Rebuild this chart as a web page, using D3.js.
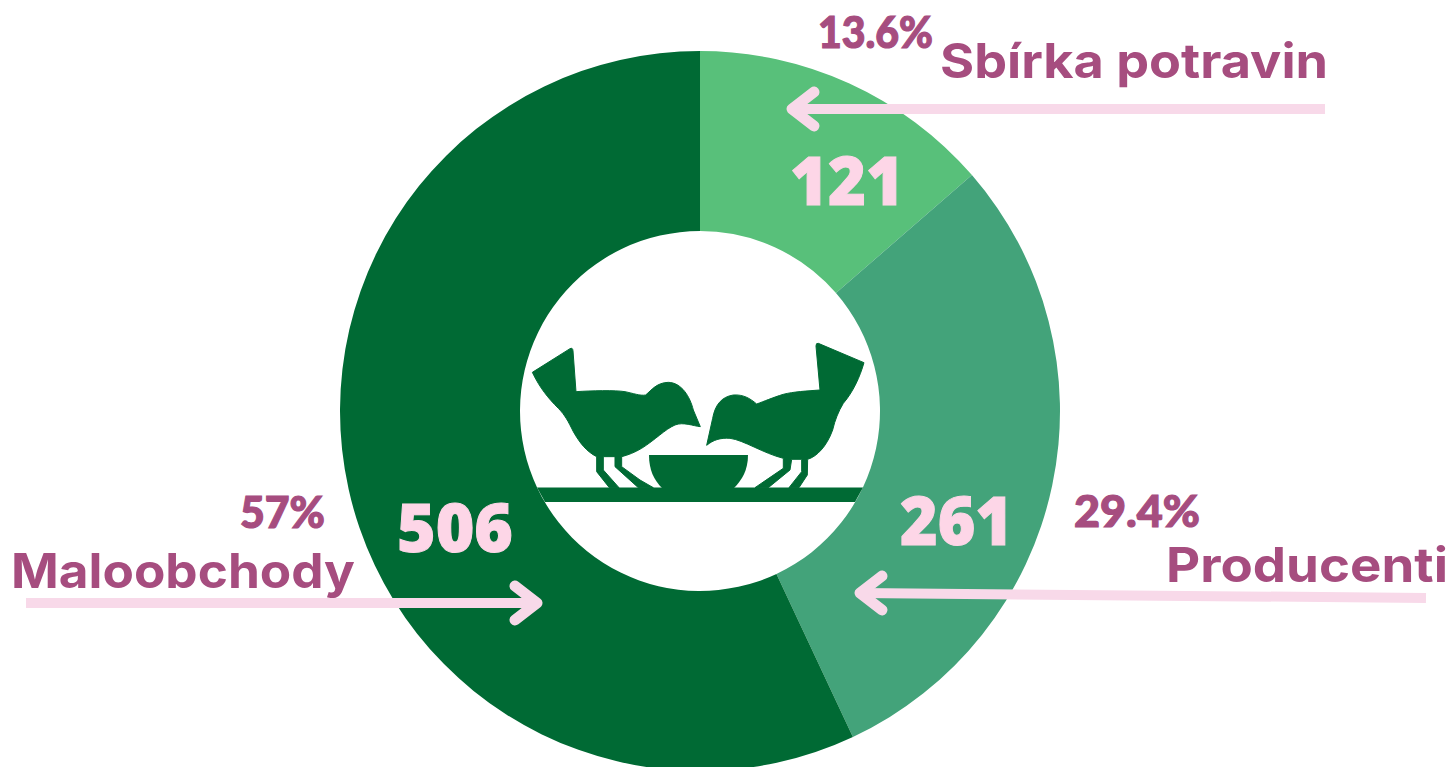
<!DOCTYPE html>
<html>
<head>
<meta charset="utf-8">
<script src="https://cdn.jsdelivr.net/npm/d3@7"></script>
<style>
  html, body { margin: 0; padding: 0; background: #fff; overflow: hidden; }
  svg { display: block; }
</style>
</head>
<body>
<div id="chart"></div>
<script>
const categories = ["Sbírka potravin", "Producenti", "Maloobchody"];
const counts = [121, 261, 506];
const percents = ["13.6%", "29.4%", "57%"];

const width = 1451;
const height = 767;
const cx = 700;
const cy = 411;

const color = d3.scaleOrdinal()
  .domain(categories)
  .range(["#58c07a", "#43a37a", "#006a34"]);

const svg = d3.select("#chart")
  .append("svg")
  .attr("width", width)
  .attr("height", height);

const g = svg.append("g")
  .attr("transform", `translate(${cx},${cy})`);

const pie = d3.pie().sort(null).value(d => d.count);
const arc = d3.arc().innerRadius(180).outerRadius(360);

const rows = categories.map((c, i) => ({ name: c, count: counts[i], pct: percents[i] }));

g.selectAll("path.slice")
  .data(pie(rows))
  .enter()
  .append("path")
  .attr("class", "slice")
  .attr("fill", d => color(d.data.name))
  .attr("d", arc);

// Birds on the shelf, traced at 3x
const icon = svg.append("g").attr("fill", "#006a34");

const leftBird = "M22,97 L135,26 Q143,22 144,32 L153,155 C200,152 270,150 300,155 C325,160 345,168 362,165 C380,150 395,128 430,127 C470,128 495,170 505,210 L526,260 C505,258 475,245 450,255 C420,268 390,300 350,325 C330,337 310,345 290,350 L290,380 L345,420 L385,443 L340,443 L270,380 L270,350 L235,350 L235,390 L282,443 L253,443 L215,395 L215,350 C185,335 165,310 145,275 C130,245 120,225 100,205 C70,175 45,145 22,97 Z";
const rightBird = "M492,68 L355,10 Q348,8 348,18 L360,150 C320,153 280,155 250,163 C220,172 190,185 170,192 C150,175 130,163 100,165 C65,170 45,195 38,235 L20,316 C40,300 60,293 90,295 C130,300 190,340 250,355 L250,385 L165,443 L205,443 L270,390 L275,358 L305,358 L305,395 L267,443 L297,443 L322,405 L323,358 C350,350 380,320 398,270 C405,240 415,215 430,190 C460,155 480,110 492,68 Z";

[[525, leftBird], [700, rightBird]].forEach(([x, d]) => {
  icon.append("path")
    .attr("transform", `translate(${x},340) scale(0.3333)`)
    .attr("stroke", "#006a34")
    .attr("stroke-width", 3)
    .attr("d", d);
});
// bowl and shelf
icon.append("path").attr("d", "M649,455 L748,455 C748,470 742,480 734,488 L662,488 C654,480 649,470 649,455 Z");
icon.append("path").attr("d", "M537,487.5 L863,487.5 L855,502 L545,502 Z");

// Arrows
const arrowColor = "#f8d9e9";
function arrow(x1, y1, x2, y2, dir) {
  svg.append("line")
    .attr("x1", x1).attr("y1", y1).attr("x2", x2).attr("y2", y2)
    .attr("stroke", arrowColor)
    .attr("stroke-width", 10);
  svg.append("path")
    .attr("d", `M${x2 + dir * 22},${y2 - 17} L${x2},${y2} L${x2 + dir * 22},${y2 + 17}`)
    .attr("fill", "none")
    .attr("stroke", arrowColor)
    .attr("stroke-width", 11)
    .attr("stroke-linecap", "round")
    .attr("stroke-linejoin", "round");
}
arrow(1325, 109, 792, 109, 1);
arrow(26, 603, 537, 603, -1);
arrow(1426, 598, 860, 593, 1);

function label(t, x, y, len, size, family, weight, fill, outline) {
  svg.append("text")
    .attr("x", x)
    .attr("y", y)
    .attr("font-family", family)
    .attr("font-size", size)
    .attr("font-weight", weight)
    .attr("fill", fill)
    .attr("stroke", fill)
    .attr("stroke-width", outline || 0)
    .attr("textLength", len)
    .attr("lengthAdjust", "spacingAndGlyphs")
    .text(t);
}

const nameFont = "Inter, 'Open Sans', sans-serif";
const pctFont = "Lato, sans-serif";
const numFont = "'Noto Sans', 'Open Sans', sans-serif";
const purple = "#a64d7f";
const pink = "#fdd6e7";

label(categories[0], 940, 78, 388, 48, nameFont, 700, purple);
label(categories[1], 1166, 582, 282, 48, nameFont, 700, purple);
label(categories[2], 11, 588, 344, 48, nameFont, 700, purple);

label(percents[0], 818, 48, 115, 44, pctFont, 900, purple, 1.2);
label(percents[1], 1074, 527, 126, 44, pctFont, 900, purple, 1.2);
label(percents[2], 240, 528, 85, 44, pctFont, 900, purple, 1.2);

label(counts[0], 790, 205, 114, 67, numFont, 900, pink, 1);
label(counts[1], 900, 545, 113, 67, numFont, 900, pink, 1);
label(counts[2], 397, 552, 116, 67, numFont, 900, pink, 1);
</script>
</body>
</html>
